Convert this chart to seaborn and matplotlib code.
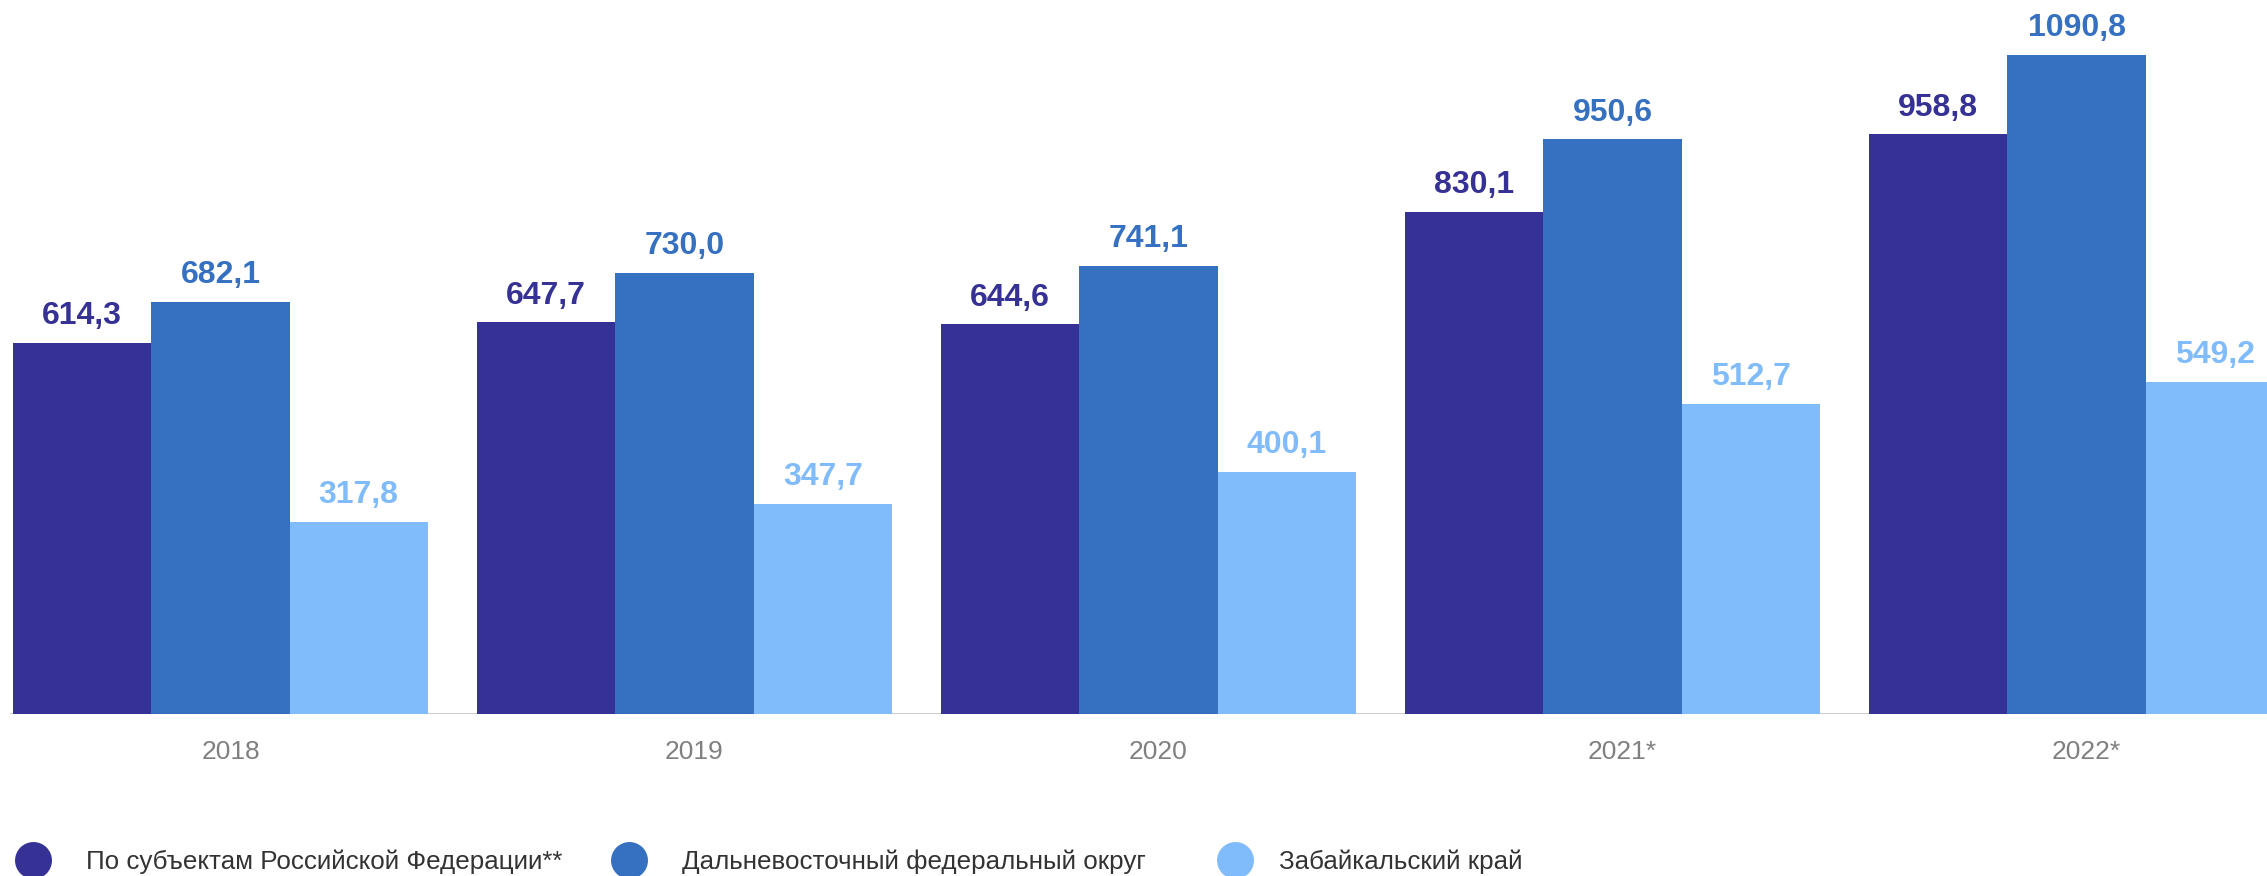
import matplotlib
matplotlib.use("Agg")
import matplotlib.pyplot as plt
import matplotlib.transforms as mtransforms
from matplotlib.lines import Line2D
import seaborn as sns
import pandas as pd

years = ["2018", "2019", "2020", "2021*", "2022*"]
series_names = ["По субъектам Российской Федерации**",
                "Дальневосточный федеральный округ",
                "Забайкальский край"]
russia = [614.3, 647.7, 644.6, 830.1, 958.8]
dfo = [682.1, 730.0, 741.1, 950.6, 1090.8]
zabaikal = [317.8, 347.7, 400.1, 512.7, 549.2]
colors = ["#363194", "#3670C1", "#80BCFB"]

rows = []
for name, vals in zip(series_names, [russia, dfo, zabaikal]):
    for y, v in zip(years, vals):
        rows.append({"year": y, "series": name, "value": v})
df = pd.DataFrame(rows)

sns.set_theme(style="white")
plt.rcParams["font.family"] = ["Liberation Sans", "DejaVu Sans"]

W, H, DPI = 2267, 876, 100
fig = plt.figure(figsize=(W / DPI, H / DPI), dpi=DPI)
base_px = 714
ax = fig.add_axes([0, 1 - base_px / H, 1, base_px / H])

sns.barplot(data=df, x="year", y="value", hue="series", order=years,
            hue_order=series_names, palette=colors, width=0.894,
            saturation=1, ax=ax, legend=False, linewidth=0, zorder=2)

px_per_unit = 0.6045
ax.set_ylim(0, base_px / px_per_unit)
c0 = 220.5
period = 464.0
ax.set_xlim(-c0 / period, (W - c0) / period)

for sp in ax.spines.values():
    sp.set_visible(False)
ax.set_yticks([])
ax.set_xlabel("")
ax.set_ylabel("")
ax.grid(False)
ax.axhline(0, xmin=10 / W, xmax=1, color="#c4c4c4", lw=1.9, zorder=1)

ax.tick_params(axis="x", length=0, pad=19, labelsize=19, labelcolor="#808080")
offset = mtransforms.ScaledTranslation(10 / DPI, 0, fig.dpi_scale_trans)
for lab in ax.get_xticklabels():
    lab.set_transform(lab.get_transform() + offset)

for cont, vals, col in zip(ax.containers, [russia, dfo, zabaikal], colors):
    labels = [f"{v:.1f}".replace(".", ",") for v in vals]
    ax.bar_label(cont, labels=labels, padding=8.5, fontsize=23,
                 fontweight="bold", color=col)

# legend: three separately placed entries
legend_x = [15, 611, 1217]
text_pads = [1.3, 1.3, 0.95]
for name, col, lx, tp in zip(series_names, colors, legend_x, text_pads):
    h = Line2D([], [], marker="o", ls="", color=col, markersize=26.6,
               markeredgewidth=0)
    leg = fig.legend(handles=[h], labels=[name], loc="center left",
                     bbox_to_anchor=(lx / W, 1 - 862 / H), frameon=False,
                     fontsize=18.7, borderpad=0, borderaxespad=0,
                     handlelength=1.42, handletextpad=tp)
    for t in leg.get_texts():
        t.set_color("#333333")

fig.savefig("out.png", dpi=DPI)
